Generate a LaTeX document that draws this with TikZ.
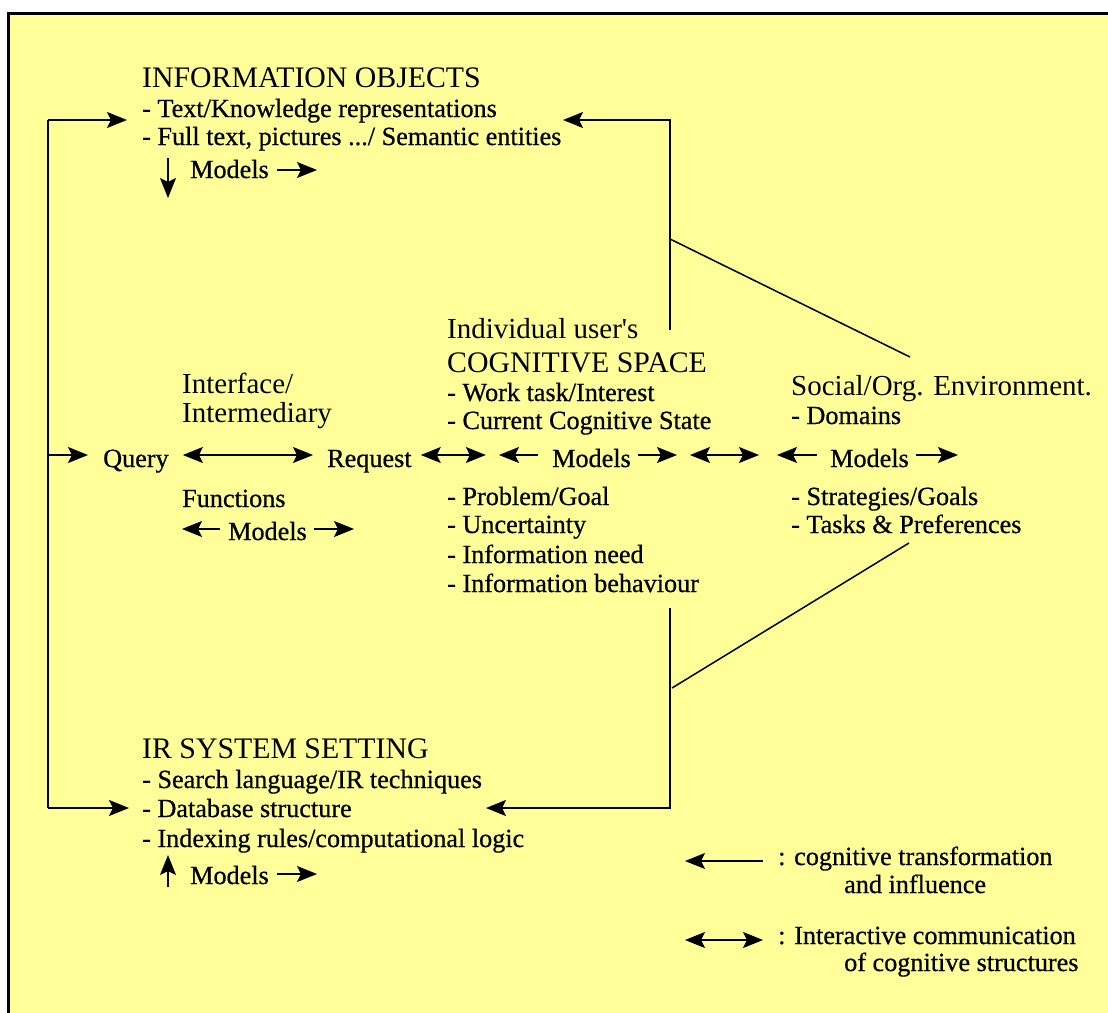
\documentclass[tikz,border=0pt]{standalone}
\usepackage{fontspec}
\setmainfont{Liberation Serif}
\newfontfamily\bodyfont{Liberation Serif}[FakeBold=0.6]
\usetikzlibrary{arrows.meta}
\definecolor{paper}{HTML}{FFFF99}
\tikzset{
  head/.style={anchor=base west,inner sep=0pt,font=\rmfamily\fontsize{29}{34}\selectfont},
  caps/.style={head,font=\rmfamily\fontsize{29.8}{34}\selectfont},
  body/.style={anchor=base west,inner sep=0pt,font=\bodyfont\fontsize{26.2}{30}\selectfont},
  arr/.style={-{Stealth[length=20pt,width=16pt,inset=4pt]},line width=1.3pt},
  darr/.style={{Stealth[length=20pt,width=16pt,inset=4pt]}-{Stealth[length=20pt,width=16pt,inset=4pt]},line width=1.3pt},
  link/.style={line width=2pt},
  slant/.style={line width=1.5pt}}
\begin{document}
\begin{tikzpicture}[x=1pt,y=-1pt]

% page and frame
\useasboundingbox (0,0) rectangle (1108,1012);
\fill[white] (0,0) rectangle (1108,1012);
\clip (0,0) rectangle (1108,1012);
\draw[fill=paper,line width=3pt] (8,13) rectangle (1140,1050);

% information objects
\node[caps] (io)  at (142,87)  {INFORMATION OBJECTS};
\node[body] (io1) at (142,117) {- Text/Knowledge representations};
\node[body] (io2) at (142,145) {- Full text, pictures .../ Semantic entities};
\node[body] (iom) at (190,178) {Models};

% interface / intermediary
\node[head] (if1) at (182,393) {Interface/};
\node[head] (if2) at (182,422) {Intermediary};
\node[body] (query) at (103,467) {Query};
\node[body] (req)   at (327,467) {Request};
\node[body] (fun)   at (182,507) {Functions};
\node[body] (ifm)   at (228,540) {Models};

% cognitive space
\node[head] (cs0) at (447,338) {Individual user\textquotesingle s};
\node[caps] (cs1) at (447,372) {COGNITIVE SPACE};
\node[body] (cs2) at (447,401) {- Work task/Interest};
\node[body] (cs3) at (447,429) {- Current Cognitive State};
\node[body] (csm) at (552,467) {Models};
\node[body] (cs4) at (447,505) {- Problem/Goal};
\node[body] (cs5) at (447,533) {- Uncertainty};
\node[body] (cs6) at (447,563) {- Information need};
\node[body] (cs7) at (447,592) {- Information behaviour};

% social / organisational environment
\node[head] (env)  at (791,395) {Social/Org. Environment.};
\node[body] (env1) at (791,424) {- Domains};
\node[body] (envm) at (830,467) {Models};
\node[body] (env2) at (791,505) {- Strategies/Goals};
\node[body] (env3) at (791,533) {- Tasks \& Preferences};

% IR system setting
\node[caps] (ir)  at (142,758) {IR SYSTEM SETTING};
\node[body] (ir1) at (142,788) {- Search language/IR techniques};
\node[body] (ir2) at (142,817) {- Database structure};
\node[body] (ir3) at (142,847) {- Indexing rules/computational logic};
\node[body] (irm) at (190,884) {Models};

% legend
\node[body] (lg1a) at (778,865) {: cognitive transformation};
\node[body] (lg1b) at (844,893) {and influence};
\node[body] (lg2a) at (778,944) {: Interactive communication};
\node[body] (lg2b) at (844,971) {of cognitive structures};

% routing points
\coordinate (row) at (0,455);
\coordinate (lt) at (48,120);
\coordinate (lb) at (48,808);
\coordinate (ut) at (670,120);
\coordinate (ub) at (670,330);
\coordinate (dt) at (670,608);
\coordinate (db) at (670,808);
\coordinate (su) at (670,239);
\coordinate (eu) at (910,357);
\coordinate (ed) at (909,543);
\coordinate (sd) at (672,688);

% feedback line on the left
\draw[link] (lt) -- (lb);
\draw[arr,link] (lt) -- ([xshift=-15pt]io1.west |- lt);
\draw[arr,link] (lb) -- ([xshift=-13pt]ir2.west |- lb);
\draw[arr,link] (lt |- row) -- ([xshift=-15pt]query.west |- row);

% cognitive space towards information objects and IR setting
\draw[arr,link] (ub) -- (ut) -- (563,120);
\draw[arr,link] (dt) -- (db) -- (486,808);
\draw[slant] (su) -- (eu);
\draw[slant] (ed) -- (sd);

% interaction row
\draw[darr] ([xshift=14pt]query.east |- row) -- ([xshift=-14pt]req.west |- row);
\draw[darr] ([xshift=9pt]req.east |- row) -- ([xshift=74pt]req.east |- row);
\draw[arr] ([xshift=-14pt]csm.west |- row) -- ([xshift=-53pt]csm.west |- row);
\draw[arr] ([xshift=7pt]csm.east |- row) -- ([xshift=46pt]csm.east |- row);
\draw[darr] (690,455) -- (759,455);
\draw[arr] ([xshift=-13pt]envm.west |- row) -- ([xshift=-53pt]envm.west |- row);
\draw[arr] ([xshift=7pt]envm.east |- row) -- ([xshift=49pt]envm.east |- row);

% interface models
\draw[arr] ([shift={(-8,-11)}]ifm.base west) -- ([shift={(-46,-11)}]ifm.base west);
\draw[arr] ([shift={(7,-11)}]ifm.base east) -- ([shift={(47,-11)}]ifm.base east);

% object models
\draw[arr] (168,158) -- (168,198);
\draw[arr] ([shift={(8,-8)}]iom.base east) -- ([shift={(48,-8)}]iom.base east);

% system models
\draw[arr] (168,887) -- (168,855);
\draw[arr] ([shift={(8,-10)}]irm.base east) -- ([shift={(48,-10)}]irm.base east);

% legend arrows
\draw[arr] ([xshift=-15pt]lg1a.west |- 0,861) -- (685,861);
\draw[darr] (685,940) -- ([xshift=-15pt]lg2a.west |- 0,940);
\end{tikzpicture}
\end{document}
